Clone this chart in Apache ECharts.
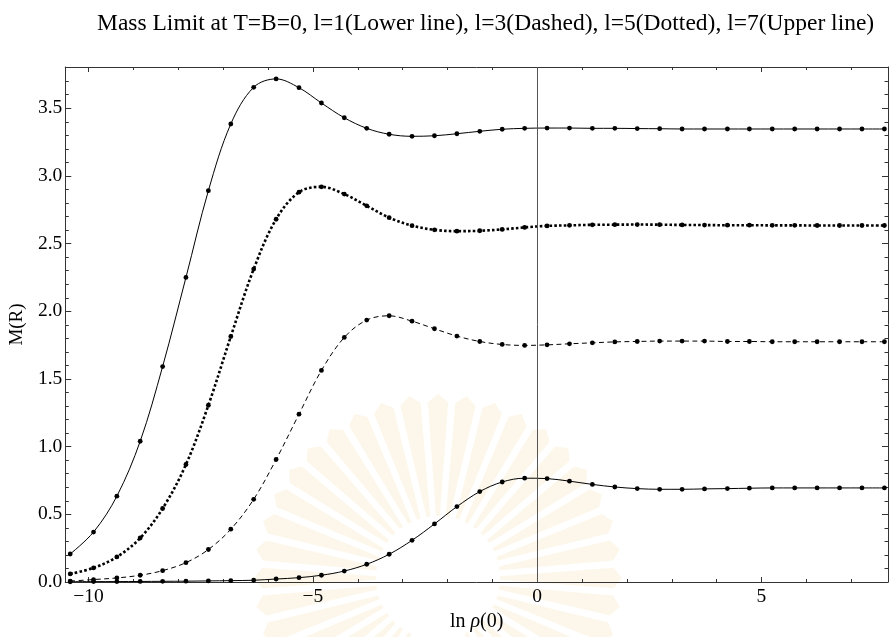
<!DOCTYPE html>
<html>
<head>
<meta charset="utf-8">
<script src="https://cdn.jsdelivr.net/npm/echarts@6/dist/echarts.min.js"></script>
<style>
  html, body { margin: 0; padding: 0; background: #fff; }
  #chart { width: 890px; height: 637px; }
</style>
</head>
<body>
<div id="chart"></div>
<script>
// ln rho(0) sample points shared by all four curves
const lnRho = [-10.41, -9.89, -9.37, -8.85, -8.35, -7.83, -7.33, -6.83, -6.32, -5.82,
  -5.31, -4.81, -4.30, -3.80, -3.30, -2.79, -2.29, -1.79, -1.28, -0.78,
  -0.28, 0.22, 0.72, 1.23, 1.73, 2.23, 2.73, 3.23, 3.73, 4.24,
  4.73, 5.24, 5.74, 6.24, 6.74, 7.24, 7.74];

// M(R) for l = 1 (lower solid line)
const massL1 = [0.002, 0.003, 0.003, 0.004, 0.005, 0.006, 0.008, 0.010, 0.013, 0.022,
  0.032, 0.050, 0.081, 0.131, 0.205, 0.308, 0.429, 0.557, 0.668, 0.739,
  0.767, 0.764, 0.745, 0.721, 0.702, 0.690, 0.685, 0.685, 0.688, 0.690,
  0.693, 0.695, 0.695, 0.695, 0.695, 0.695, 0.695];

// M(R) for l = 3 (dashed)
const massL3 = [0.007, 0.018, 0.030, 0.050, 0.084, 0.143, 0.240, 0.390, 0.611, 0.905,
  1.240, 1.563, 1.807, 1.935, 1.967, 1.927, 1.871, 1.817, 1.777, 1.755,
  1.748, 1.752, 1.760, 1.767, 1.774, 1.777, 1.780, 1.780, 1.780, 1.777,
  1.777, 1.775, 1.775, 1.775, 1.775, 1.775, 1.775];

// M(R) for l = 5 (dotted)
const massL5 = [0.060, 0.104, 0.185, 0.325, 0.543, 0.868, 1.306, 1.814, 2.312, 2.680,
  2.880, 2.920, 2.866, 2.779, 2.692, 2.633, 2.602, 2.592, 2.595, 2.605,
  2.620, 2.631, 2.635, 2.639, 2.640, 2.641, 2.640, 2.638, 2.637, 2.636,
  2.636, 2.635, 2.635, 2.634, 2.634, 2.634, 2.634];

// M(R) for l = 7 (upper solid line)
const massL7 = [0.207, 0.369, 0.634, 1.040, 1.592, 2.250, 2.891, 3.384, 3.655, 3.717,
  3.652, 3.539, 3.430, 3.352, 3.308, 3.293, 3.297, 3.312, 3.330, 3.345,
  3.352, 3.354, 3.354, 3.352, 3.352, 3.350, 3.349, 3.347, 3.347, 3.347,
  3.347, 3.347, 3.347, 3.347, 3.347, 3.347, 3.347];

// tick positions
const xMajorTicks = [-10, -5, 0, 5];
const xMinorTicks = [-10, -9, -8, -7, -6, -5, -4, -3, -2, -1, 0, 1, 2, 3, 4, 5, 6, 7];
const yMajorTicks = [0, 0.5, 1.0, 1.5, 2.0, 2.5, 3.0, 3.5];
const yMinorTicks = [0, 0.1, 0.2, 0.3, 0.4, 0.5, 0.6, 0.7, 0.8, 0.9, 1.0, 1.1, 1.2, 1.3, 1.4,
  1.5, 1.6, 1.7, 1.8, 1.9, 2.0, 2.1, 2.2, 2.3, 2.4, 2.5, 2.6, 2.7, 2.8, 2.9, 3.0, 3.1,
  3.2, 3.3, 3.4, 3.5, 3.6, 3.7, 3.8];

const X_MIN = -10.52, X_MAX = 7.82;
const Y_MIN = 0, Y_MAX = 3.805;
const FONT = 'Liberation Serif';
const FRAME = '#333';
const TICK_FONT = 19.5;

function pairs(ys) { return lnRho.map((x, i) => [x, ys[i]]); }

function frameAxis(kind, position, ticks, len, extra) {
  const isX = kind === 'x';
  return Object.assign({
    type: 'value',
    position: position,
    min: isX ? X_MIN : Y_MIN,
    max: isX ? X_MAX : Y_MAX,
    axisLine: { show: true, onZero: false, lineStyle: { color: FRAME, width: 1 } },
    axisTick: { show: true, inside: true, length: len, customValues: ticks,
      lineStyle: { color: FRAME, width: 1 } },
    axisLabel: { show: false },
    splitLine: { show: false },
    minorTick: { show: false },
    silent: true
  }, extra || {});
}

const xFmt = v => (v < 0 ? '\u2212' + Math.abs(v) : String(v));
const yFmt = v => Number(v).toFixed(1);

// faint radial emblem behind the plot
const burst = [];
(function () {
  const cx = 438, cy = 578, n = 40, r0 = 62, r1 = 176;
  for (let i = 0; i < n; i++) {
    const a = i * 2 * Math.PI / n;
    const w0 = 0.03, w1 = 0.058;
    burst.push({
      type: 'polygon',
      silent: true,
      z: -10,
      shape: { points: [
        [cx + r0 * Math.cos(a - w0), cy + r0 * Math.sin(a - w0)],
        [cx + r1 * Math.cos(a - w1), cy + r1 * Math.sin(a - w1)],
        [cx + (r1 + 8) * Math.cos(a), cy + (r1 + 8) * Math.sin(a)],
        [cx + r1 * Math.cos(a + w1), cy + r1 * Math.sin(a + w1)],
        [cx + r0 * Math.cos(a + w0), cy + r0 * Math.sin(a + w0)]
      ] },
      style: { fill: 'rgba(238, 212, 140, 0.18)' }
    });
  }
})();

const symbolStyle = { color: '#000' };

function curve(name, ys, lineStyle, extra) {
  return Object.assign({
    name: name,
    type: 'line',
    data: pairs(ys),
    smooth: 0.35,
    symbol: 'circle',
    symbolSize: 4.8,
    showAllSymbol: true,
    itemStyle: symbolStyle,
    lineStyle: Object.assign({ color: '#000', width: 1 }, lineStyle)
  }, extra || {});
}

const chart = echarts.init(document.getElementById('chart'), null, { renderer: 'canvas' });
chart.setOption({
  animation: false,
  backgroundColor: '#fff',
  title: {
    text: 'Mass Limit at T=B=0, l=1(Lower line), l=3(Dashed), l=5(Dotted), l=7(Upper line)',
    left: 92,
    top: 7,
    textStyle: { fontFamily: FONT, fontSize: 23.5, fontWeight: 'normal', color: '#000' }
  },
  graphic: burst,
  grid: { left: 65, right: 2, top: 67, bottom: 55, containLabel: false },
  xAxis: [
    frameAxis('x', 'bottom', xMajorTicks, 5, {
      axisLabel: { show: true, customValues: xMajorTicks, formatter: xFmt,
        fontFamily: FONT, fontSize: TICK_FONT, color: '#000', margin: 5 },
      name: 'ln {i|\u03C1}(0)',
      nameLocation: 'middle',
      nameGap: 30,
      nameTextStyle: { fontFamily: FONT, fontSize: 20, color: '#000',
        rich: { i: { fontFamily: FONT, fontSize: 20, fontStyle: 'italic', color: '#000' } } }
    }),
    frameAxis('x', 'bottom', xMinorTicks, 3, { axisLine: { show: false, onZero: false } }),
    frameAxis('x', 'top', xMajorTicks, 5),
    frameAxis('x', 'top', xMinorTicks, 3, { axisLine: { show: false, onZero: false } })
  ],
  yAxis: [
    frameAxis('y', 'left', yMajorTicks, 6, {
      axisLabel: { show: true, customValues: yMajorTicks, formatter: yFmt,
        fontFamily: FONT, fontSize: TICK_FONT, color: '#000', margin: 3 },
      name: 'M(R)',
      nameLocation: 'middle',
      nameRotate: 90,
      nameGap: 25,
      nameTextStyle: { fontFamily: FONT, fontSize: 19, color: '#000' }
    }),
    frameAxis('y', 'left', yMinorTicks, 3.5, { axisLine: { show: false, onZero: false } }),
    frameAxis('y', 'right', yMajorTicks, 6),
    frameAxis('y', 'right', yMinorTicks, 3.5, { axisLine: { show: false, onZero: false } })
  ],
  series: [
    curve('l=1', massL1, {}, {
      markLine: {
        silent: true,
        symbol: 'none',
        label: { show: false },
        lineStyle: { color: '#555', width: 1, type: 'solid' },
        data: [{ xAxis: 0 }]
      }
    }),
    curve('l=3', massL3, { type: [5, 3.5] }),
    curve('l=5', massL5, { width: 2.6, type: [2.6, 2.2], cap: 'butt' }),
    curve('l=7', massL7, {})
  ]
});
</script>
</body>
</html>
